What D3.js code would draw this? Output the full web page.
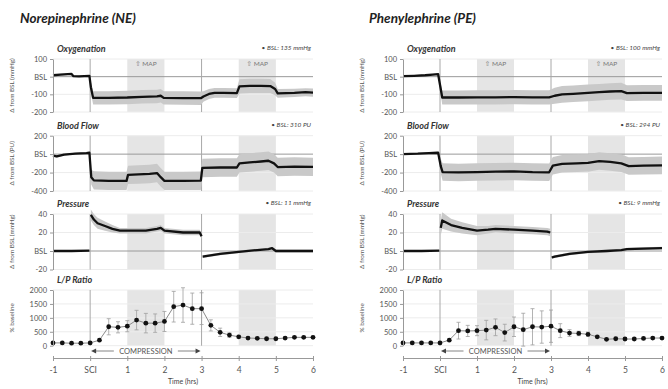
<!DOCTYPE html>
<html>
<head>
<meta charset="utf-8">
<script src="https://cdn.jsdelivr.net/npm/d3@7"></script>
<style>
  body { margin: 0; background: #fff; }
  text { font-family: Lato, "Open Sans", "DejaVu Sans", sans-serif; }
</style>
</head>
<body>
<div id="chart"></div>
<script>
// ---- data ----
const hours = [-1, 0, 1, 2, 3, 4, 5, 6];
const hourLabels = ["-1", "SCI", "1", "2", "3", "4", "5", "6"];
const mapWindows = [[1, 2], [4, 5]];
const eventLines = [0, 3];

const oxyTicks = [100, 0, -100, -200];
const flowTicks = [200, 0, -200, -400];
const presTicks = [40, 20, 0, -20];
const lpTicks = [2000, 1500, 1000, 500, 0];

// Oxygenation, NE
const oxyNE_t = [-1, -0.8, -0.6, -0.5, -0.45, -0.3, -0.02, 0.02, 0.08, 0.5, 1.0, 1.4, 1.8, 1.9, 1.98, 2.5, 2.98, 3.05, 3.2, 3.35, 3.6, 3.95, 4.02, 4.3, 4.6, 4.85, 4.98, 5.05, 5.5, 5.8, 6.0];
const oxyNE_m = [8, 12, 14, 15, 3, 2, 4, -60, -120, -120, -118, -114, -112, -108, -120, -121, -122, -112, -98, -92, -92, -93, -55, -52, -52, -53, -70, -95, -92, -88, -90];
const oxyNE_sd = [5, 5, 5, 5, 5, 5, 5, 30, 38, 38, 38, 38, 38, 38, 38, 38, 38, 30, 28, 28, 28, 28, 40, 40, 40, 40, 35, 25, 23, 23, 23];

// Oxygenation, PE
const oxyPE_t = [-1, -0.7, -0.4, -0.2, -0.05, 0.02, 0.06, 0.5, 1.0, 1.5, 2.0, 2.5, 2.95, 3.1, 3.3, 3.6, 4.0, 4.3, 4.6, 4.9, 5.05, 5.5, 6.0];
const oxyPE_m = [3, 5, 8, 12, 14, -70, -118, -118, -117, -117, -116, -117, -117, -108, -100, -97, -92, -88, -84, -82, -93, -92, -92];
const oxyPE_sd = [5, 5, 5, 5, 5, 30, 40, 40, 40, 40, 40, 40, 40, 45, 47, 47, 47, 47, 47, 47, 45, 45, 45];

// Blood flow, NE
const flowNE_t = [-1, -0.9, -0.7, -0.4, -0.1, -0.02, 0.03, 0.1, 0.5, 0.98, 1.02, 1.3, 1.6, 1.8, 1.9, 2.0, 2.5, 2.98, 3.02, 3.5, 3.95, 4.02, 4.3, 4.6, 4.8, 4.95, 5.05, 5.5, 6.0];
const flowNE_m = [-15, -25, -5, 5, 12, 15, -250, -285, -290, -290, -225, -220, -215, -205, -250, -290, -290, -288, -150, -145, -145, -100, -90, -80, -72, -100, -140, -135, -138];
const flowNE_sd = [10, 15, 10, 10, 10, 10, 80, 100, 100, 100, 100, 100, 100, 100, 100, 100, 100, 100, 100, 100, 100, 100, 100, 100, 100, 100, 100, 100, 100];

// Blood flow, PE
const flowPE_t = [-1, -0.6, -0.3, -0.05, 0.02, 0.07, 0.5, 1.0, 1.5, 2.0, 2.5, 2.95, 3.05, 3.3, 3.7, 4.0, 4.3, 4.6, 4.9, 5.1, 5.5, 6.0];
const flowPE_m = [0, 5, 12, 15, -130, -195, -198, -195, -190, -188, -195, -197, -125, -105, -100, -95, -75, -85, -100, -130, -125, -122];
const flowPE_sd = [10, 10, 10, 10, 80, 95, 95, 95, 95, 95, 95, 95, 95, 95, 95, 95, 95, 95, 95, 95, 95, 95];

// Pressure, NE (null = break in the trace)
const presNE_t = [-1, -0.5, -0.02, 0, 0.02, 0.1, 0.2, 0.4, 0.6, 0.8, 1.0, 1.5, 1.8, 1.9, 2.0, 2.5, 2.95, 3.0, 3.01, 3.03, 3.5, 4.0, 4.5, 4.8, 4.9, 5.0, 5.5, 6.0];
const presNE_m = [0, 0, 0.5, null, 39, 34, 30, 27, 24, 22, 22, 22, 24, 25, 22, 20, 20, 16, null, -6, -3, -1, 1, 2, 3, 0, 0, 0];
const presNE_sd = [0.5, 0.5, 0.5, null, 6, 6, 6, 5, 4, 3, 3, 3, 3, 3, 3, 3, 3, 3, null, 1.5, 1.5, 1.5, 1.5, 1.5, 1.5, 1.5, 1.5, 1.5];

// Pressure, PE
const presPE_t = [-1, -0.5, -0.02, 0, 0.02, 0.06, 0.3, 0.6, 1.0, 1.3, 1.5, 2.0, 2.5, 2.9, 2.98, 3.0, 3.02, 3.1, 3.5, 4.0, 4.5, 4.9, 5.05, 5.5, 6.0];
const presPE_m = [0, 0, 0.5, null, 25, 33, 28, 25, 22, 23, 24, 23, 22, 21, 20, null, -7, -6, -3, -1, 0, 1, 2, 2.5, 3];
const presPE_sd = [0.5, 0.5, 0.5, null, 8, 9, 7, 6, 5, 4, 4, 4, 4, 4, 4, null, 1.5, 1.5, 1.5, 1.5, 1.5, 1.5, 1.5, 1.5, 1.5];

// L/P ratio, sampled every 15 min
const lp_t = [-1, -0.75, -0.5, -0.25, 0, 0.25, 0.5, 0.75, 1, 1.25, 1.5, 1.75, 2, 2.25, 2.5, 2.75, 3, 3.25, 3.5, 3.75, 4, 4.25, 4.5, 4.75, 5, 5.25, 5.5, 5.75, 6];
const lpNE_m = [100, 100, 90, 90, 100, 200, 680, 660, 700, 920, 810, 810, 870, 1400, 1460, 1330, 1330, 730, 480, 380, 320, 275, 265, 250, 250, 275, 300, 300, 300];
const lpNE_sd = [0, 0, 0, 0, 0, 0, 290, 200, 200, 350, 350, 330, 360, 550, 620, 560, 570, 200, 150, 80, 50, 30, 30, 30, 30, 30, 30, 30, 30];
const lpPE_m = [100, 100, 100, 100, 100, 200, 540, 530, 540, 560, 660, 470, 680, 575, 680, 670, 700, 540, 455, 440, 410, 320, 230, 250, 240, 240, 260, 275, 275];
const lpPE_sd = [0, 0, 0, 0, 0, 0, 300, 200, 180, 350, 300, 300, 350, 590, 650, 580, 580, 250, 120, 80, 80, 30, 30, 30, 30, 30, 30, 30, 30];

// ---- layout ----
const width = 668, height = 389;

const rows = [
	{ key: "oxy", name: "Oxygenation", domain: [-200, 100], top: 59, bottom: 112, ticks: oxyTicks, ylab: "\u0394 from BSL (mmHg)" },
	{ key: "flow", name: "Blood Flow", domain: [-400, 200], top: 135.7, bottom: 191, ticks: flowTicks, ylab: "\u0394 from BSL (PU)" },
	{ key: "pres", name: "Pressure", domain: [-20, 40], top: 214, bottom: 269.5, ticks: presTicks, ylab: "\u0394 from BSL (mmHg)" },
	{ key: "lp", name: "L/P Ratio", domain: [0, 2000], top: 290, bottom: 345.7, ticks: lpTicks, ylab: "% baseline" }
];

const sides = [
	{
		title: "Norepinephrine (NE)", left: 53, right: 313, titleX: 20, ylabX: 12,
		series: {
			oxy: [oxyNE_t, oxyNE_m, oxyNE_sd],
			flow: [flowNE_t, flowNE_m, flowNE_sd],
			pres: [presNE_t, presNE_m, presNE_sd]
		},
		bsl: { oxy: "135 mmHg", flow: "310 PU", pres: "11 mmHg" },
		lp: [lpNE_m, lpNE_sd]
	},
	{
		title: "Phenylephrine (PE)", left: 403, right: 662, titleX: 369, ylabX: 362,
		series: {
			oxy: [oxyPE_t, oxyPE_m, oxyPE_sd],
			flow: [flowPE_t, flowPE_m, flowPE_sd],
			pres: [presPE_t, presPE_m, presPE_sd]
		},
		bsl: { oxy: "100 mmHg", flow: "294 PU", pres: "9 mmHg" },
		lp: [lpPE_m, lpPE_sd]
	}
];

const svg = d3.select("#chart").append("svg")
	.attr("width", width)
	.attr("height", height);

sides.forEach(function (side) {

	let x = d3.scaleLinear().domain([-1, 6]).range([side.left, side.right]);

	svg.append("text")
		.attr("x", side.titleX)
		.attr("y", 23)
		.style("font-size", "13.5px")
		.style("font-weight", "bold")
		.style("font-style", "italic")
		.attr("fill", "#222")
		.text(side.title);

	rows.forEach(function (row) {
		let y = d3.scaleLinear().domain(row.domain).range([row.bottom, row.top]);
		let g = svg.append("g").attr("class", "panel " + row.key);

		// MAP elevation windows
		g.selectAll(".win")
			.data(mapWindows)
			.enter().append("rect")
			.attr("x", d => x(d[0]))
			.attr("width", d => x(d[1]) - x(d[0]))
			.attr("y", row.top)
			.attr("height", row.bottom - row.top)
			.attr("fill", "#e5e5e5");

		// gridlines
		g.selectAll(".grid")
			.data(row.ticks)
			.enter().append("line")
			.attr("x1", side.left).attr("x2", side.right)
			.attr("y1", d => y(d)).attr("y2", d => y(d))
			.attr("stroke", d => (d === 0 && row.key !== "lp") ? "#9a9a9a" : "#ececec")
			.attr("stroke-width", 1);

		// SCI and end of compression
		g.selectAll(".evt")
			.data(eventLines)
			.enter().append("line")
			.attr("x1", d => x(d)).attr("x2", d => x(d))
			.attr("y1", row.top).attr("y2", row.bottom)
			.attr("stroke", "#a8a8a8")
			.attr("stroke-width", 1);

		if (row.key === "oxy") {
			g.selectAll(".map")
				.data(mapWindows)
				.enter().append("text")
				.attr("x", d => x((d[0] + d[1]) / 2))
				.attr("y", row.top + 7)
				.attr("text-anchor", "middle")
				.style("font-size", "6.5px")
				.attr("fill", "#777")
				.text("\u21e7 MAP");
		}

		if (row.key !== "lp") {
			let s = side.series[row.key];
			let pts = s[0].map((t, i) => ({ t: t, m: s[1][i], sd: s[2][i] }));

			let area = d3.area()
				.defined(d => d.m !== null)
				.x(d => x(d.t))
				.y0(d => y(d.m - d.sd))
				.y1(d => y(d.m + d.sd));

			let line = d3.line()
				.defined(d => d.m !== null)
				.x(d => x(d.t))
				.y(d => y(d.m));

			g.append("path")
				.datum(pts)
				.attr("d", area)
				.attr("fill", "#c9c9c9");

			g.append("path")
				.datum(pts)
				.attr("d", line)
				.attr("fill", "none")
				.attr("stroke", "#111")
				.attr("stroke-width", 2.3)
				.attr("stroke-linejoin", "round");

			g.append("text")
				.attr("x", side.right - 2)
				.attr("y", row.top - 9)
				.attr("text-anchor", "end")
				.style("font-size", "6.5px")
				.style("font-style", "italic")
				.attr("fill", "#444")
				.text("\u2022 BSL: " + side.bsl[row.key]);
		} else {
			let pts = lp_t.map((t, i) => ({ t: t, m: side.lp[0][i], sd: side.lp[1][i] }));

			let bars = g.selectAll(".err")
				.data(pts.filter(d => d.sd > 0))
				.enter().append("g")
				.attr("stroke", "#a0a0a0")
				.attr("stroke-width", 0.8);
			bars.append("line")
				.attr("x1", d => x(d.t)).attr("x2", d => x(d.t))
				.attr("y1", d => y(d.m - d.sd)).attr("y2", d => y(d.m + d.sd));
			bars.append("line")
				.attr("x1", d => x(d.t) - 2).attr("x2", d => x(d.t) + 2)
				.attr("y1", d => y(d.m - d.sd)).attr("y2", d => y(d.m - d.sd));
			bars.append("line")
				.attr("x1", d => x(d.t) - 2).attr("x2", d => x(d.t) + 2)
				.attr("y1", d => y(d.m + d.sd)).attr("y2", d => y(d.m + d.sd));

			g.append("path")
				.datum(pts)
				.attr("d", d3.line().x(d => x(d.t)).y(d => y(d.m)))
				.attr("fill", "none")
				.attr("stroke", "#8a8a8a")
				.attr("stroke-width", 1);

			g.selectAll(".pt")
				.data(pts)
				.enter().append("circle")
				.attr("cx", d => x(d.t))
				.attr("cy", d => y(d.m))
				.attr("r", 2.4)
				.attr("fill", "#111");
		}

		// y axis
		let yAxis = d3.axisLeft(y)
			.tickValues(row.ticks)
			.tickSize(3)
			.tickSizeOuter(0)
			.tickFormat(d => (d === 0 && row.key !== "lp") ? "BSL" : d);

		let ya = g.append("g")
			.attr("transform", "translate(" + side.left + ",0)")
			.call(yAxis);
		ya.select(".domain").attr("stroke", "#999");
		ya.selectAll(".tick line").attr("stroke", "#999");
		ya.selectAll(".tick text")
			.attr("fill", "#555")
			.style("font-size", "7.5px");

		g.append("text")
			.attr("transform", "translate(" + side.ylabX + "," + ((row.top + row.bottom) / 2) + ") rotate(-90)")
			.attr("text-anchor", "middle")
			.attr("dy", "0.35em")
			.style("font-size", "6.3px")
			.attr("fill", "#555")
			.text(row.ylab);

		// panel title
		g.append("text")
			.attr("x", side.left + 4)
			.attr("y", row.top - 7)
			.style("font-size", "9px")
			.style("font-weight", "bold")
			.style("font-style", "italic")
			.attr("fill", "#333")
			.text(row.name);
	});

	// compression marker
	let cy = 351;
	let cg = svg.append("g");
	cg.append("text")
		.attr("x", x(1.5))
		.attr("y", cy + 3)
		.attr("text-anchor", "middle")
		.style("font-size", "7.5px")
		.attr("fill", "#555")
		.text("COMPRESSION");
	cg.append("line")
		.attr("x1", x(0) + 4).attr("x2", x(1.5) - 32)
		.attr("y1", cy).attr("y2", cy)
		.attr("stroke", "#666").attr("stroke-width", 0.8);
	cg.append("line")
		.attr("x1", x(1.5) + 32).attr("x2", x(3) - 4)
		.attr("y1", cy).attr("y2", cy)
		.attr("stroke", "#666").attr("stroke-width", 0.8);
	cg.append("path")
		.attr("d", "M" + (x(0) + 1) + "," + cy + "L" + (x(0) + 6) + "," + (cy - 2.5) + "L" + (x(0) + 6) + "," + (cy + 2.5) + "Z")
		.attr("fill", "#444");
	cg.append("path")
		.attr("d", "M" + (x(3) - 1) + "," + cy + "L" + (x(3) - 6) + "," + (cy - 2.5) + "L" + (x(3) - 6) + "," + (cy + 2.5) + "Z")
		.attr("fill", "#444");

	// time axis
	let xAxis = d3.axisBottom(x)
		.tickValues(hours)
		.tickSize(3)
		.tickSizeOuter(0)
		.tickPadding(6)
		.tickFormat((d, i) => hourLabels[i]);

	let xa = svg.append("g")
		.attr("transform", "translate(0,358)")
		.call(xAxis);
	xa.select(".domain").attr("stroke", "#999");
	xa.selectAll(".tick line").attr("stroke", "#999").attr("y1", -2);
	xa.selectAll(".tick text")
		.attr("fill", "#555")
		.style("font-size", "8.5px");

	svg.append("text")
		.attr("x", (side.left + side.right) / 2)
		.attr("y", 384)
		.attr("text-anchor", "middle")
		.style("font-size", "7px")
		.attr("fill", "#444")
		.text("Time (hrs)");
});
</script>
</body>
</html>
